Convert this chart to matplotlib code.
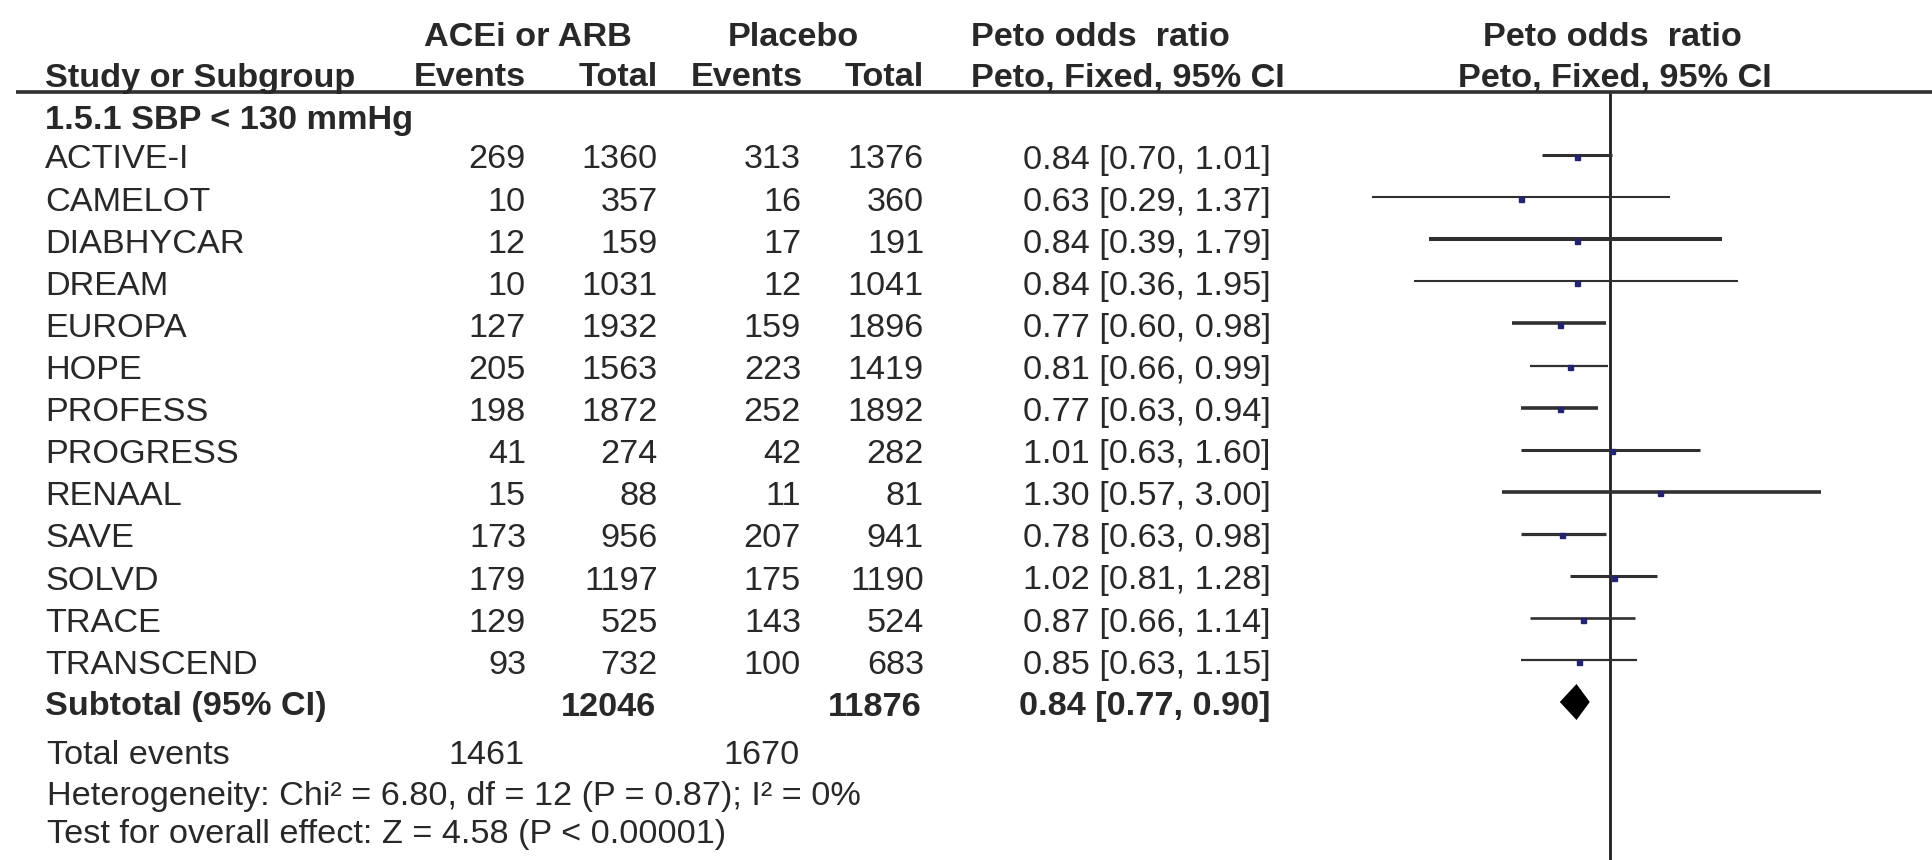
import math
import matplotlib
matplotlib.use("Agg")
import matplotlib.pyplot as plt

# ---- data -------------------------------------------------------------
studies = ["ACTIVE-I", "CAMELOT", "DIABHYCAR", "DREAM", "EUROPA", "HOPE",
           "PROFESS", "PROGRESS", "RENAAL", "SAVE", "SOLVD", "TRACE",
           "TRANSCEND"]
events_acei = [269, 10, 12, 10, 127, 205, 198, 41, 15, 173, 179, 129, 93]
total_acei = [1360, 357, 159, 1031, 1932, 1563, 1872, 274, 88, 956, 1197, 525, 732]
events_placebo = [313, 16, 17, 12, 159, 223, 252, 42, 11, 207, 175, 143, 100]
total_placebo = [1376, 360, 191, 1041, 1896, 1419, 1892, 282, 81, 941, 1190, 524, 683]
odds_ratio = [0.84, 0.63, 0.84, 0.84, 0.77, 0.81, 0.77, 1.01, 1.30, 0.78, 1.02, 0.87, 0.85]
ci_low = [0.70, 0.29, 0.39, 0.36, 0.60, 0.66, 0.63, 0.63, 0.57, 0.63, 0.81, 0.66, 0.63]
ci_high = [1.01, 1.37, 1.79, 1.95, 0.98, 0.99, 0.94, 1.60, 3.00, 0.98, 1.28, 1.14, 1.15]

subgroup_label = "1.5.1 SBP < 130 mmHg"
subtotal_n = [12046, 11876]
subtotal_events = [1461, 1670]
subtotal_or = [0.84, 0.77, 0.90]
heterogeneity = "Heterogeneity: Chi\u00b2 = 6.80, df = 12 (P = 0.87); I\u00b2 = 0%"
overall_test = "Test for overall effect: Z = 4.58 (P < 0.00001)"

# ---- layout -----------------------------------------------------------
W, H = 1932, 860
FONT = "Liberation Sans"
FS = 24.7
TXT = "#282828"

line_y = [155 + 42.1 * i for i in range(len(studies))]
text_dy = 5
sub_y = 702
ci_lw = [2.2, 1.5, 2.9, 1.5, 2.6, 1.6, 2.6, 2.2, 2.6, 2.3, 2.2, 1.9, 1.6]

# column anchors (pixels)
X_NAME = 45
X_EV_A, X_TOT_A = 526, 658
X_EV_P, X_TOT_P = 801, 924
X_OR = 1023
X_NULL = 1610           # OR = 1
PX_PER_LN = 192         # pixels per unit of ln(OR)

fig = plt.figure(figsize=(W / 100, H / 100), dpi=100)
fig.patch.set_facecolor("white")

tab = fig.add_axes([0, 0, 1, 1])
tab.set_xlim(0, W)
tab.set_ylim(H, 0)
tab.axis("off")

def put(x, y, s, ha="left", bold=False):
    tab.text(x, y, s, ha=ha, va="center", fontsize=FS, family=FONT,
             fontweight="bold" if bold else "normal", color=TXT)

# column headers
put(528, 37, "ACEi or ARB", "center", True)
put(793, 37, "Placebo", "center", True)
put(971, 37, "Peto odds  ratio", "left", True)
put(X_NULL + 2, 37, "Peto odds  ratio", "center", True)
put(X_NAME, 78, "Study or Subgroup", bold=True)
put(X_EV_A, 78, "Events", "right", True)
put(X_TOT_A, 78, "Total", "right", True)
put(X_EV_P + 2, 78, "Events", "right", True)
put(X_TOT_P, 78, "Total", "right", True)
put(971, 78, "Peto, Fixed, 95% CI", "left", True)
put(X_NULL + 5, 78, "Peto, Fixed, 95% CI", "center", True)
tab.plot([16, W], [92, 92], color="#303030", lw=2.6, solid_capstyle="butt")

put(X_NAME, 121, subgroup_label, bold=True)

for i, name in enumerate(studies):
    y = line_y[i] + text_dy
    put(X_NAME, y, name)
    put(X_EV_A, y, str(events_acei[i]), "right")
    put(X_TOT_A, y, str(total_acei[i]), "right")
    put(X_EV_P, y, str(events_placebo[i]), "right")
    put(X_TOT_P, y, str(total_placebo[i]), "right")
    put(X_OR, y, f"{odds_ratio[i]:.2f} [{ci_low[i]:.2f}, {ci_high[i]:.2f}]")

ys = sub_y + text_dy
put(X_NAME, ys, "Subtotal (95% CI)", bold=True)
put(X_TOT_A - 2, ys, str(subtotal_n[0]), "right", True)
put(X_TOT_P - 2, ys, str(subtotal_n[1]), "right", True)
put(X_OR - 4, ys, f"{subtotal_or[0]:.2f} [{subtotal_or[1]:.2f}, {subtotal_or[2]:.2f}]", bold=True)

put(X_NAME + 2, 755, "Total events")
put(X_EV_A - 2, 755, str(subtotal_events[0]), "right")
put(X_EV_P - 1, 755, str(subtotal_events[1]), "right")
put(X_NAME + 2, 796, heterogeneity)
put(X_NAME + 2, 834, overall_test)

# ---- forest panel (log scale) -------------------------------------------
lo_lim, hi_lim = 0.1, 5.4
left_px = X_NULL - PX_PER_LN * math.log(1 / lo_lim)
width_px = PX_PER_LN * (math.log(hi_lim) - math.log(lo_lim))
forest = fig.add_axes([left_px / W, 0, width_px / W, 1])
forest.set_xscale("log")
forest.set_xlim(lo_lim, hi_lim)
forest.set_ylim(H, 0)
forest.axis("off")
forest.patch.set_alpha(0)

forest.plot([1, 1], [93, H], color="#1e1e1e", lw=2.0, solid_capstyle="butt")

for i in range(len(studies)):
    y = line_y[i]
    forest.plot([ci_low[i], ci_high[i]], [y, y], color="#303030",
                lw=ci_lw[i], solid_capstyle="butt")
    forest.plot(odds_ratio[i], y + 1.5, marker="s", ms=3.6, color="#24246e",
                mec="#24246e", ls="none")

est, lo, hi = subtotal_or
forest.fill([lo, est, hi, est], [sub_y, sub_y - 18, sub_y, sub_y + 18],
            color="black", lw=0)

fig.savefig("out.png", dpi=100, facecolor="white")
